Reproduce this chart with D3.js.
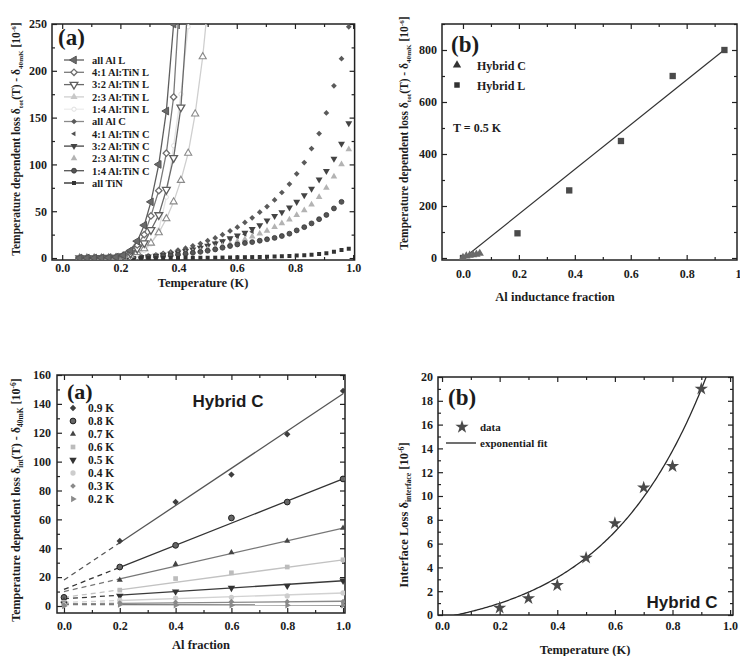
<!DOCTYPE html>
<html><head><meta charset="utf-8">
<script src="https://cdn.jsdelivr.net/npm/d3@7"></script>
<style>
body{margin:0;background:#fff;}
svg{display:block;}
text{font-family:"Liberation Serif","Times New Roman",serif;font-weight:bold;fill:#1c1c1c;}
.sans{font-family:"Liberation Sans",Arial,sans-serif;}
</style></head><body>
<script>
// ---------- Panel (a), top: loss vs temperature, hybrid C sweeps ----------
const tempsC = [0.067,0.092,0.118,0.143,0.169,0.194,0.22,0.245,0.271,0.296,0.322,0.347,0.373,0.398,0.424,0.449,0.475,0.5,0.526,0.551,0.577,0.602,0.628,0.653,0.679,0.704,0.73,0.755,0.781,0.806,0.832,0.857,0.883,0.908,0.934,0.96,0.985];
const allAlC  = [0,0,0.1,0.1,0.2,0.4,0.6,1,1.6,2.5,3.5,5,6.5,8.5,10.5,13,15.5,18.5,21.5,25,29,33,38,43,49,55,62,70,79,90,102,117,133,155,184,213,247];
const al41C   = [0,0,0,0,0.1,0.3,0.5,0.9,1.4,2,3,4,5.2,6.5,8,10,12,14,16,18,20.5,23,25.5,28];
const al32C   = [0,0,0,0,0.1,0.2,0.4,0.7,1.1,1.7,2.5,3.5,4.5,6,7.5,9,11,13,15.5,18,21,24,27,31,35,40,45,49,54,60,67,74,84,93,106,122,144];
const al23C   = [0,0,0,0,0,0.1,0.3,0.5,0.8,1.2,1.8,2.5,3.3,4.2,5.3,6.5,8,9.5,11,13,15,17.5,20,23,26,29,33,37,41,46,51,57,65,75,87,100,116];
const al14C   = [0,0,0,0,0,0.2,0.3,0.5,0.8,1.2,1.7,2.3,3,3.8,4.6,5.6,6.6,7.8,9.2,11,12.8,14.5,16,17,18.5,20,21.5,23.5,26,29.5,33,37,41.5,46,53,60];
const allTiN  = [0,0,0,0,0,0,0,0,0,0,0,0.1,0.1,0.1,0.2,0.2,0.3,0.3,0.4,0.5,0.6,0.8,0.9,1,1.2,1.4,1.6,1.9,2.2,2.6,3,3.5,4.3,5,6.8,8.5,10];
// hybrid L sweeps
const tempsL = [0.06,0.085,0.11,0.135,0.16,0.185,0.21,0.235,0.258,0.282,0.305,0.332,0.358,0.383,0.408,0.433,0.457,0.483,0.51];
const allAlL = [0,0,0,0.2,0.5,1,3,8,18,35,60,100,157,250,380];
const al41L  = [0,0,0,0.2,0.5,1,3,7,14,25,45,72,112,172,300];
const al32L  = [0,0,0,0.1,0.3,0.5,2,5,10,16,30,46,73,107,161,275];
const al23L  = [0,0,0,0,0.1,0.3,1,3,6,10,16,27,42,60,83,112,154,215,300];
const al14L  = [0,0,0,0,0.1,0.2,0.5,1.5,4,8,15,30,65,120,175,247,330];
const legendNamesA = ["all Al L","4:1 Al:TiN L","3:2 Al:TiN L","2:3 Al:TiN L","1:4 Al:TiN L","all Al C","4:1 Al:TiN C","3:2 Al:TiN C","2:3 Al:TiN C","1:4 Al:TiN C","all TiN"];

// ---------- Panel (b), top: loss vs Al inductance fraction at 0.5 K ----------
const hybridCFraction = [0.0,0.012,0.024,0.036,0.048,0.06];
const hybridCLoss     = [1.5,7,10,12.5,14,17.5];
const hybridLFraction = [0.0,0.195,0.38,0.565,0.75,0.935];
const hybridLLoss     = [0,95,260,450,700,800];
const linFitSlope = 860, linFitIntercept = -3, linFitEnd = 0.935;

// ---------- Panel (a), bottom: loss vs Al fraction, Hybrid C ----------
const alFraction = [0,0.2,0.4,0.6,0.8,1.0];
const tempLabels = ["0.9 K","0.8 K","0.7 K","0.6 K","0.5 K","0.4 K","0.3 K","0.2 K"];
const loss09 = [5,45,72,91,119,149];
const loss08 = [6,27,42,61,72,88];
const loss07 = [4,18,29,37,45,54];
const loss06 = [2.5,11,19,23,27,32];
const loss05 = [1.5,7,10,12.5,14,17.5];
const loss04 = [1,4,5.5,6,7,9];
const loss03 = [0.5,2,2.5,3,3,3];
const loss02 = [0,1,0.5,0.5,0.5,0.5];
const fitSlopes     = [129,76.5,44,26,12.5,6.5,1.8,-0.3];
const fitIntercepts = [18,11.5,10,6,5,2.5,1.5,1];

// ---------- Panel (b), bottom: interface loss vs temperature ----------
const interfaceT    = [0.2,0.3,0.4,0.5,0.6,0.7,0.8,0.9];
const interfaceLoss = [0.6,1.4,2.5,4.8,7.7,10.7,12.5,19.0];
const expFitA = 1.59, expFitTau = 0.35, expFitOffset = -1.83;

// ---------------------------------------------------------------
const W = 740, H = 656;
const svg = d3.select("body").append("svg").attr("width", W).attr("height", H);
const INK = "#222";

const shapes = {
  diamond: [d3.symbolDiamond2 || d3.symbolDiamond, 0],
  triUp: [d3.symbolTriangle, 0], triDown: [d3.symbolTriangle, 180],
  triLeft: [d3.symbolTriangle, -90], triRight: [d3.symbolTriangle, 90],
  circle: [d3.symbolCircle, 0], square: [d3.symbolSquare, 0], star: [d3.symbolStar, 0]
};
function marker(g, cx, cy, st) {
  const [t, rot] = shapes[st.shape];
  g.append("path").attr("d", d3.symbol(t, st.size)())
    .attr("transform", `translate(${cx},${cy}) rotate(${rot})`)
    .attr("fill", st.fill).attr("stroke", st.stroke || "none").attr("stroke-width", st.sw || 1);
}

let clipId = 0;
function panel(x, y, o) {
  const g = svg.append("g");
  const [xl, xr] = x.range(), [yb, yt] = y.range();
  const id = "clip" + (clipId++);
  svg.append("clipPath").attr("id", id).append("rect")
    .attr("x", xl).attr("y", yt).attr("width", xr - xl).attr("height", yb - yt);
  const style = (a) => {
    a.select(".domain").remove();
    a.selectAll("line").attr("stroke", INK).attr("stroke-width", 1.2);
    a.selectAll("text").attr("font-size", o.tickFont || 12).attr("fill", "#1c1c1c")
      .attr("font-family", "Liberation Serif, serif").attr("font-weight", "bold");
  };
  const mk = (fn, sc, vals, size, tr, fmt, pad) => {
    const ax = fn(sc).tickValues(vals).tickSize(size).tickPadding(pad || 3);
    ax.tickFormat(fmt || "");
    const a = g.append("g").attr("transform", tr).call(ax);
    style(a);
    return a;
  };
  // minor ticks
  mk(d3.axisBottom, x, o.xMinor, -3, `translate(0,${yb})`);
  mk(d3.axisTop, x, o.xMinor, -3, `translate(0,${yt})`);
  mk(d3.axisLeft, y, o.yMinor, -3, `translate(${xl},0)`);
  mk(d3.axisRight, y, o.yMinor, -3, `translate(${xr},0)`);
  // major ticks
  mk(d3.axisBottom, x, o.xMajor, -5, `translate(0,${yb})`, o.xFmt, o.xPad);
  mk(d3.axisTop, x, o.xMajor, -5, `translate(0,${yt})`);
  mk(d3.axisLeft, y, o.yMajor, -5, `translate(${xl},0)`, o.yFmt, o.yPad);
  mk(d3.axisRight, y, o.yMajor, -5, `translate(${xr},0)`);
  g.append("rect").attr("x", xl).attr("y", yt).attr("width", xr - xl).attr("height", yb - yt)
    .attr("fill", "none").attr("stroke", INK).attr("stroke-width", 1.5);
  const plot = svg.append("g").attr("clip-path", `url(#${id})`);
  return { g, plot };
}

function rich(t, parts, size) {
  let shift = 0;
  parts.forEach(([s, k]) => {
    const want = k === "sub" ? 3 : k === "sup" ? -4 : 0;
    t.append("tspan").text(s).attr("dy", want - shift)
      .attr("font-size", k ? size * 0.62 : size);
    shift = want;
  });
}
function rotTitle(x, y, parts, size) {
  const t = svg.append("text").attr("transform", `translate(${x},${y}) rotate(-90)`)
    .attr("text-anchor", "middle").attr("font-size", size);
  rich(t, parts, size);
}
function text(x, y, s, size, cls, anchor) {
  return svg.append("text").attr("x", x).attr("y", y).attr("font-size", size)
    .attr("class", cls || null).attr("text-anchor", anchor || "start").text(s);
}
const lossTitle = [["Temperature dependent loss \u03B4"],["tot","sub"],["(T) - \u03B4"],["40mK","sub"],[" [10"],["-6","sup"],["]"]];
const f1 = d3.format(".1f");
const rng = (a, b, s) => d3.range(a, b + s / 2, s).map(v => +v.toFixed(4));

// ================= Panel top-left =================
{
  const x = d3.scaleLinear().domain([-0.035, 1.005]).range([52, 354.6]);
  const y = d3.scaleLinear().domain([-2.1, 250]).range([260, 24]);
  const { plot } = panel(x, y, {
    xMajor: rng(0, 1, 0.2), xMinor: rng(0.1, 0.9, 0.2), yMajor: rng(0, 250, 50), yMinor: rng(25, 225, 50),
    xFmt: f1, yFmt: d3.format("d"), xPad: 3, yPad: 5
  });
  const cSeries = [
    { v: allAlC, st: { shape: "diamond", size: 21, fill: "#5a5a5a" } },
    { v: al41C, st: { shape: "triLeft", size: 11, fill: "#505050" } },
    { v: al32C, st: { shape: "triDown", size: 21, fill: "#444" } },
    { v: al23C, st: { shape: "triUp", size: 19, fill: "#b3b3b3" } },
    { v: al14C, st: { shape: "circle", size: 19, fill: "#555", stroke: "#333", sw: 0.8 } },
    { v: allTiN, st: { shape: "square", size: 16, fill: "#333" } }
  ];
  cSeries.forEach(s => s.v.forEach((val, i) => marker(plot, x(tempsC[i]), y(val), s.st)));
  const lSeries = [
    { v: al14L, line: "#e3e3e3", st: { shape: "circle", size: 14, fill: "#fff", stroke: "#e0e0e0" } },
    { v: al23L, line: "#cfcfcf", st: { shape: "triUp", size: 22, fill: "#fff", stroke: "#8a8a8a", sw: 1.1 } },
    { v: al32L, line: "#6a6a6a", st: { shape: "triDown", size: 26, fill: "#fff", stroke: "#5e5e5e", sw: 1.3 } },
    { v: al41L, line: "#7a7a7a", st: { shape: "diamond", size: 26, fill: "#fff", stroke: "#6e6e6e", sw: 1.3 } },
    { v: allAlL, line: "#5e5e5e", st: { shape: "triLeft", size: 26, fill: "#6a6a6a", stroke: "#555" } }
  ];
  const ln = d3.line().x(d => x(d[0])).y(d => y(d[1]));
  lSeries.forEach(s => {
    const pts = s.v.map((val, i) => [tempsL[i], val]);
    plot.append("path").attr("d", ln(pts)).attr("fill", "none").attr("stroke", s.line).attr("stroke-width", 1.3);
    pts.forEach(p => marker(plot, x(p[0]), y(p[1]), s.st));
  });
  // legend
  const leg = [
    { line: "#5e5e5e", st: lSeries[4].st }, { line: "#7a7a7a", st: lSeries[3].st },
    { line: "#6a6a6a", st: lSeries[2].st }, { line: "#cfcfcf", st: { shape: "triUp", size: 22, fill: "#c8c8c8" } },
    { line: "#ececec", st: lSeries[0].st }, { line: "#8a8a8a", st: cSeries[0].st },
    { line: null, st: cSeries[1].st }, { line: "#444", st: cSeries[2].st },
    { line: null, st: cSeries[3].st }, { line: "#555", st: cSeries[4].st },
    { line: "#222", st: cSeries[5].st }
  ];
  legendNamesA.forEach((name, i) => {
    const yy = 60 + i * 12.3;
    if (leg[i].line) svg.append("line").attr("x1", 64).attr("x2", 84).attr("y1", yy).attr("y2", yy)
      .attr("stroke", leg[i].line).attr("stroke-width", 1.3);
    marker(svg, 74, yy, leg[i].st);
    text(92, yy + 3.8, name, 10.5);
  });
  text(58, 45, "(a)", 23);
  text(203, 287, "Temperature (K)", 12.5, null, "middle");
  rotTitle(20, 139, lossTitle, 11.5);
}

// ================= Panel top-right =================
{
  const x = d3.scaleLinear().domain([-0.075, 0.98]).range([442, 737]);
  const y = d3.scaleLinear().domain([-7.7, 900]).range([260, 24]);
  const { plot } = panel(x, y, {
    xMajor: rng(0, 1, 0.2), xMinor: rng(0.1, 0.9, 0.2), yMajor: rng(0, 800, 200), yMinor: rng(100, 900, 200),
    xFmt: f1, yFmt: d3.format("d"), xPad: 9, yPad: 5
  });
  plot.append("line").attr("x1", x(0)).attr("x2", x(linFitEnd))
    .attr("y1", y(linFitIntercept)).attr("y2", y(linFitIntercept + linFitSlope * linFitEnd))
    .attr("stroke", "#333").attr("stroke-width", 1.2);
  const sq = { shape: "square", size: 40, fill: "#4a4a4a" };
  const tr = { shape: "triUp", size: 30, fill: "#6a6a6a" };
  hybridLFraction.forEach((f, i) => marker(plot, x(f), y(hybridLLoss[i]), sq));
  hybridCFraction.forEach((f, i) => marker(plot, x(f), y(hybridCLoss[i]), tr));
  // legend
  marker(svg, 457, 65, { shape: "triUp", size: 30, fill: "#333" });
  text(477, 69.5, "Hybrid C", 12);
  marker(svg, 457, 85, { shape: "square", size: 30, fill: "#333" });
  text(477, 89.5, "Hybrid L", 12);
  text(453, 132, "T = 0.5 K", 12);
  text(451, 52, "(b)", 23);
  text(555, 301, "Al inductance fraction", 12.5, null, "middle");
  rotTitle(408, 133, lossTitle, 11.5);
}

// ================= Panel bottom-left =================
{
  const x = d3.scaleLinear().domain([-0.025, 1.007]).range([57, 345]);
  const y = d3.scaleLinear().domain([-4.85, 160]).range([613, 375]);
  const { plot } = panel(x, y, {
    xMajor: rng(0, 1, 0.2), xMinor: rng(0.1, 0.9, 0.2), yMajor: rng(0, 160, 20), yMinor: rng(10, 150, 20),
    xFmt: f1, yFmt: d3.format("d"), xPad: 8, yPad: 6
  });
  const rows = [loss09, loss08, loss07, loss06, loss05, loss04, loss03, loss02];
  const styles = [
    { line: "#555", st: { shape: "diamond", size: 26, fill: "#3e3e3e" } },
    { line: "#333", st: { shape: "circle", size: 26, fill: "#666", stroke: "#222", sw: 1 } },
    { line: "#777", st: { shape: "triUp", size: 16, fill: "#444" } },
    { line: "#c2c2c2", st: { shape: "square", size: 22, fill: "#bcbcbc" } },
    { line: "#3a3a3a", st: { shape: "triDown", size: 24, fill: "#333" } },
    { line: "#d2d2d2", st: { shape: "circle", size: 22, fill: "#cdcdcd" } },
    { line: "#8a8a8a", st: { shape: "diamond", size: 20, fill: "#8a8a8a" } },
    { line: "#7a7a7a", st: { shape: "triRight", size: 18, fill: "#8a8a8a" } }
  ];
  rows.forEach((vals, k) => {
    const f = v => fitIntercepts[k] + fitSlopes[k] * v;
    plot.append("line").attr("x1", x(0)).attr("x2", x(0.2)).attr("y1", y(f(0))).attr("y2", y(f(0.2)))
      .attr("stroke", styles[k].line).attr("stroke-width", 1.3).attr("stroke-dasharray", "5,4");
    plot.append("line").attr("x1", x(0.2)).attr("x2", x(1.0)).attr("y1", y(f(0.2))).attr("y2", y(f(1.0)))
      .attr("stroke", styles[k].line).attr("stroke-width", 1.3);
  });
  rows.forEach((vals, k) => vals.forEach((v, i) => marker(plot, x(alFraction[i]), y(v), styles[k].st)));
  tempLabels.forEach((lab, k) => {
    const yy = 408 + k * 13;
    marker(svg, 73, yy, styles[k].st);
    text(88, yy + 4, lab, 11.5);
  });
  text(67, 399, "(a)", 22);
  text(228, 407, "Hybrid C", 17, "sans", "middle");
  text(201, 649, "Al fraction", 12.5, null, "middle");
  rotTitle(20, 500, [["Temperature dependent loss \u03B4"],["int","sub"],["(T) - \u03B4"],["40mK","sub"],[" [10"],["-6","sup"],["]"]], 12);
}

// ================= Panel bottom-right =================
{
  const x = d3.scaleLinear().domain([-0.014, 1.01]).range([438, 733]);
  const y = d3.scaleLinear().domain([0, 20]).range([615, 377]);
  const { plot } = panel(x, y, {
    xMajor: rng(0, 1, 0.2), xMinor: rng(0.1, 0.9, 0.2), yMajor: rng(0, 20, 2), yMinor: rng(1, 19, 2),
    xFmt: f1, yFmt: d3.format("d"), xPad: 6, yPad: 5
  });
  const xs = d3.range(0.03, 0.95, 0.005);
  const fit = d3.line().x(t => x(t)).y(t => y(expFitOffset + expFitA * Math.exp(t / expFitTau)));
  plot.append("path").attr("d", fit(xs)).attr("fill", "none").attr("stroke", "#2a2a2a").attr("stroke-width", 1.3);
  const star = { shape: "star", size: 55, fill: "#4a4a4a" };
  interfaceT.forEach((t, i) => marker(plot, x(t), y(interfaceLoss[i]), star));
  marker(svg, 462, 427, star);
  text(480, 431, "data", 11);
  svg.append("line").attr("x1", 446).attr("x2", 476).attr("y1", 443).attr("y2", 443).attr("stroke", "#222").attr("stroke-width", 1.3);
  text(480, 447, "exponential fit", 11);
  text(448, 405, "(b)", 23);
  text(682, 608, "Hybrid C", 17, "sans", "middle");
  text(585, 654, "Temperature (K)", 12.5, null, "middle");
  rotTitle(408, 515, [["Interface Loss \u03B4"],["interface","sub"],[" [10"],["-6","sup"],["]"]], 12.5);
}
</script></body></html>
